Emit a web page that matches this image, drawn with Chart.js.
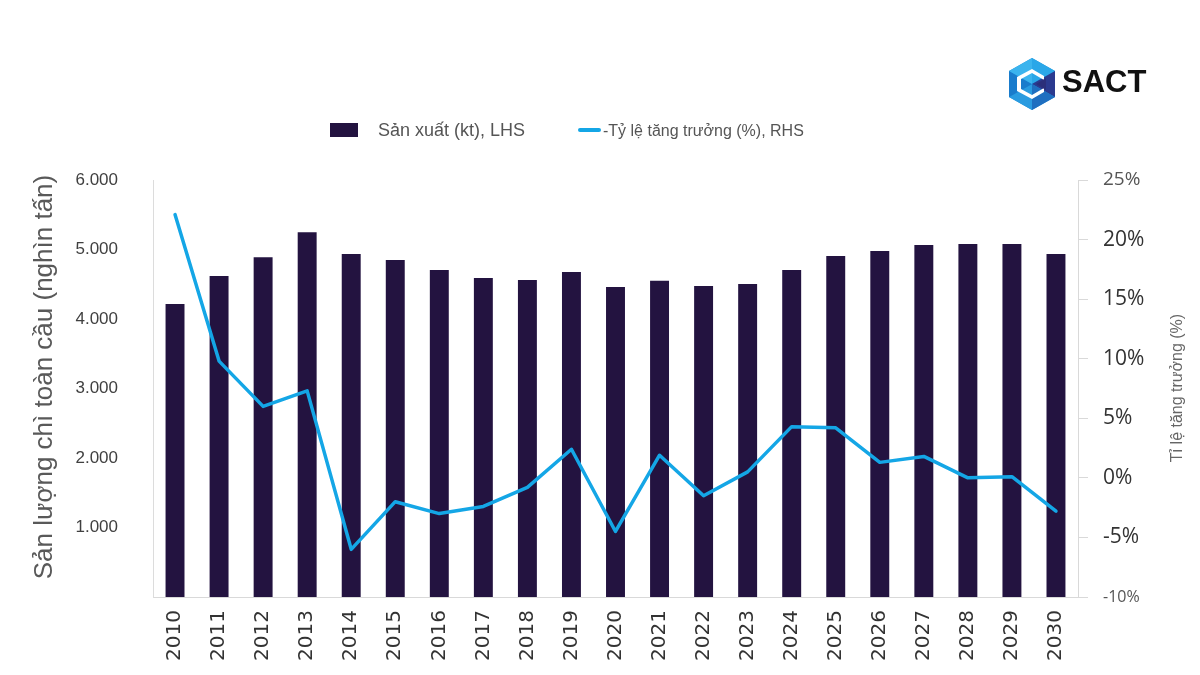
<!DOCTYPE html>
<html>
<head>
<meta charset="utf-8">
<script src="https://cdn.jsdelivr.net/npm/chart.js@4/dist/chart.umd.min.js"></script>
<style>
  body { margin: 0; background: #fff; font-family: "Liberation Sans", Arial, sans-serif; }
  #wrap { position: relative; width: 1200px; height: 675px; }
  #c { position: absolute; left: 0; top: 0; }
  .leg { position: absolute; color: #555; white-space: nowrap; }
  .logo { position: absolute; left: 1006px; top: 56px; }
  .logo span { position: absolute; left: 56px; top: 8px; font: bold 31px "Liberation Sans", Arial, sans-serif; color: #111; }
</style>
</head>
<body>
<div id="wrap">
  <canvas id="c" width="1200" height="675"></canvas>
  <div class="logo">
    <svg width="52" height="56" viewBox="0 0 52 56">
      <polygon points="26,2 49,15 49,41 26,54 3,41 3,15" fill="#1d8fd8"/>
      <polygon points="26,2 49,15 26,28" fill="#2aa7e8"/>
      <polygon points="49,15 49,41 26,28" fill="#2b3a8f"/>
      <polygon points="49,41 26,54 26,28" fill="#1f6fc0"/>
      <polygon points="26,54 3,41 26,28" fill="#2a9be0"/>
      <polygon points="3,41 3,15 26,28" fill="#1a7ccc"/>
      <polygon points="3,15 26,2 26,28" fill="#3bb4ee"/>
      <polygon points="26,13 38,20 38,24 26,17 15,23 15,33 26,39 38,32 38,36 26,43 11,35 11,21" fill="#fff"/>
      <polygon points="30,28 40,22 40,34" fill="#2b2f7a"/>
    </svg>
    <span>SACT</span>
  </div>
  <div class="leg" style="left:330px;top:120px;font-size:18px;">
    <span style="display:inline-block;width:28px;height:14px;background:#231340;vertical-align:-1px;margin-right:20px;"></span>Sản xuất (kt), LHS
  </div>
  <div class="leg" style="left:578px;top:122px;font-size:16px;">
    <span style="display:inline-block;width:23px;height:4px;background:#14a6e6;vertical-align:4px;margin-right:2px;border-radius:2px;"></span>-Tỷ lệ tăng trưởng (%), RHS
  </div>
</div>
<script>
const years = ['2010','2011','2012','2013','2014','2015','2016','2017','2018','2019','2020',
  '2021','2022','2023','2024','2025','2026','2027','2028','2029','2030'];
const production = [4216, 4620, 4890, 5250, 4935, 4850, 4705, 4590, 4560, 4675, 4460,
  4550, 4475, 4505, 4705, 4905, 4980, 5065, 5080, 5080, 4935];
const growth = [22.1, 9.8, 6.0, 7.3, -6.0, -2.0, -3.0, -2.4, -0.8, 2.4, -4.5,
  1.9, -1.5, 0.5, 4.3, 4.2, 1.3, 1.8, 0.0, 0.1, -2.8];

// axis titles drawn by hand (right one reads bottom to top)
const extras = {
  id: 'extras',
  afterDraw(chart) {
    const ctx = chart.ctx;
    const a = chart.chartArea;
    ctx.save();
    ctx.strokeStyle = '#d9d9d9';
    ctx.lineWidth = 1;
    ctx.beginPath();
    ctx.moveTo(a.right, Math.round(a.bottom) + 0.5);
    ctx.lineTo(a.right + 10, Math.round(a.bottom) + 0.5);
    ctx.stroke();

    ctx.fillStyle = '#595959';
    ctx.font = '26px "Liberation Sans", Arial, sans-serif';
    ctx.textAlign = 'center';
    ctx.textBaseline = 'middle';
    ctx.translate(45, 377);
    ctx.rotate(-Math.PI / 2);
    ctx.fillText('Sản lượng chì toàn cầu (nghìn tấn)', 0, 0);
    ctx.restore();

    ctx.save();
    ctx.fillStyle = '#666';
    ctx.font = '16px "Liberation Sans", Arial, sans-serif';
    ctx.textAlign = 'center';
    ctx.textBaseline = 'middle';
    ctx.translate(1178, 388);
    ctx.rotate(-Math.PI / 2);
    ctx.fillText('Tỉ lệ tăng trưởng (%)', 0, 0);
    ctx.restore();
  }
};

new Chart(document.getElementById('c'), {
  type: 'bar',
  data: {
    labels: years,
    datasets: [
      {
        type: 'line',
        label: '-Tỷ lệ tăng trưởng (%), RHS',
        data: growth,
        yAxisID: 'y1',
        borderColor: '#14a6e6',
        borderWidth: 3.5,
        pointRadius: 0,
        tension: 0,
        borderCapStyle: 'round',
        borderJoinStyle: 'round',
        order: 0
      },
      {
        label: 'Sản xuất (kt), LHS',
        data: production,
        yAxisID: 'y',
        backgroundColor: '#231340',
        categoryPercentage: 1,
        barPercentage: 0.43,
        order: 1
      }
    ]
  },
  options: {
    responsive: false,
    animation: false,
    layout: { padding: { top: 180, left: 0, right: 0, bottom: 0 } },
    plugins: { legend: { display: false }, tooltip: { enabled: false } },
    scales: {
      x: {
        grid: { display: false, drawTicks: false },
        border: { color: '#d9d9d9' },
        ticks: {
          maxRotation: 90, minRotation: 90, padding: 13,
          color: '#333',
          font: { size: 20, family: '"DejaVu Sans", sans-serif' }
        },
        afterFit(s) { s.height = 78; }
      },
      y: {
        position: 'left',
        min: 0, max: 6000,
        grid: { display: false, drawTicks: false },
        border: { color: '#dcdcdc' },
        ticks: {
          stepSize: 1000,
          padding: 35,
          color: '#404040',
          font: { size: 17, family: '"Liberation Sans", Arial, sans-serif' },
          callback: v => v === 0 ? '' : (v / 1000).toFixed(3)
        },
        afterFit(s) { s.width = 153; }
      },
      y1: {
        position: 'right',
        min: -10, max: 25,
        grid: { display: true, drawOnChartArea: false, drawTicks: true, tickLength: 10, color: '#d9d9d9' },
        border: { display: true, color: '#d9d9d9' },
        ticks: {
          stepSize: 5,
          padding: 15,
          color: ctx => (ctx.tick.value === 25 || ctx.tick.value === -10) ? '#555' : '#333',
          font: ctx => ({
            size: (ctx.tick && ctx.tick.value === 25) ? 19 : (ctx.tick && ctx.tick.value === -10) ? 16 : 21,
            family: '"Open Sans", sans-serif'
          }),
          callback: v => v + '%'
        },
        afterFit(s) { s.width = 122; }
      }
    }
  },
  plugins: [extras]
});
</script>
</body>
</html>
